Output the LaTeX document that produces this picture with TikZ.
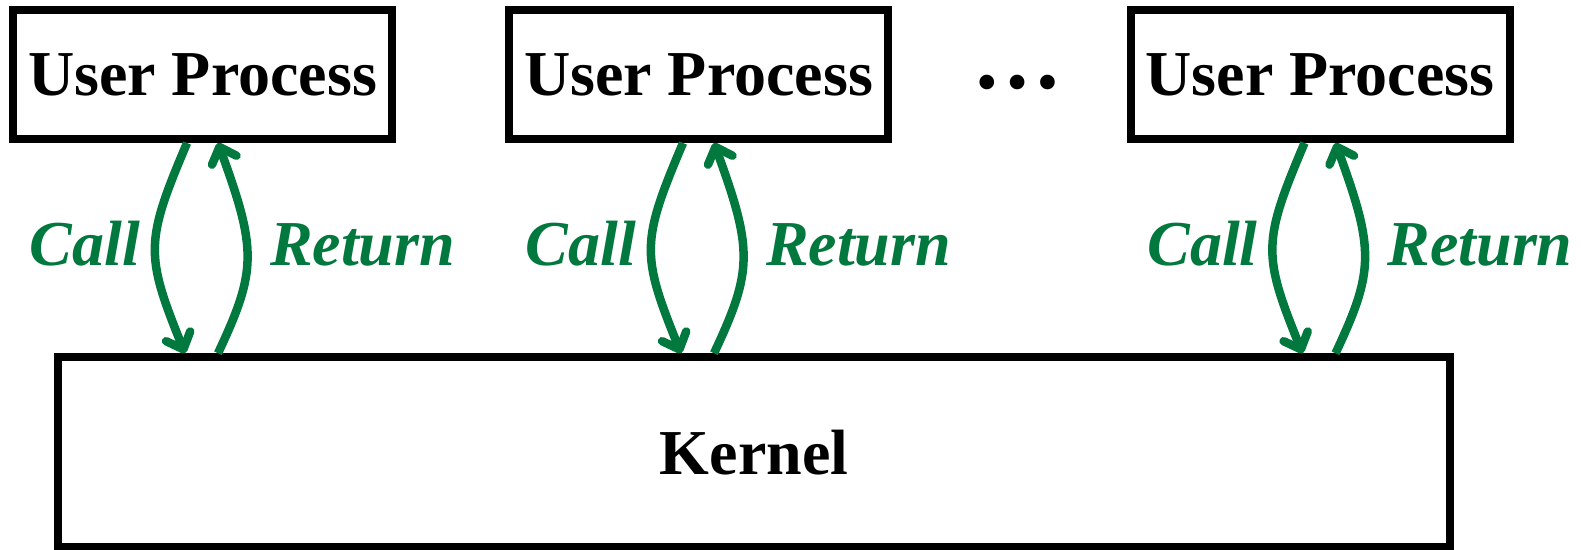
\documentclass[tikz,border=0pt]{standalone}
\usepackage{fontspec}
\setmainfont{Liberation Serif}
\usetikzlibrary{arrows.meta,calc}
\definecolor{callgreen}{RGB}{0,120,62}
\tikzset{
  procbox/.style={draw, line width=8pt, minimum width=379pt, minimum height=129pt, inner sep=0pt,
    font=\bfseries\fontsize{64}{64}\selectfont},
  kernbox/.style={draw, line width=8pt, minimum width=1392pt, minimum height=190pt, inner sep=0pt,
    font=\bfseries\fontsize{64}{64}\selectfont},
  flow/.style={draw=callgreen, line width=8.5pt, -{Straight Barb[length=14pt,width=26pt,round]}},
  lab/.style={text=callgreen, font=\bfseries\itshape\fontsize{64}{64}\selectfont, anchor=base, inner sep=0pt},
  dotstext/.style={font=\bfseries\fontsize{90}{90}\selectfont, anchor=base, inner sep=0pt}
}
\begin{document}
\begin{tikzpicture}[x=1pt,y=-1pt]
\useasboundingbox (0,0) rectangle (1581,549);
\node[procbox] (u1) at (202.5,74.5) {User Process};
\node[procbox] (u2) at (698.5,74.5) {User Process};
\node[procbox] (u3) at (1320,74.5) {User Process};
\node[dotstext] (dots) at (1017,88) {…};
\node[kernbox] (k) at (754,452.25) {Kernel};
\foreach \u in {u1,u2,u3}{
  \draw[flow] ([xshift=-15.5pt]\u.south) .. controls +(-42,99) and +(-40,-99) .. ($(\u.south |- k.north)+(-17.5,0)$);
  \draw[flow] ($(\u.south |- k.north)+(15.5,0)$) .. controls +(39,-83) and +(39,107) .. ([xshift=15.5pt]\u.south);
  \node[lab] (call-\u) at ($(\u.center)+(-117.5,190.5)$) {Call};
  \node[lab] (ret-\u) at ($(\u.center)+(160,190.5)$) {Return};
}
\end{tikzpicture}
\end{document}
